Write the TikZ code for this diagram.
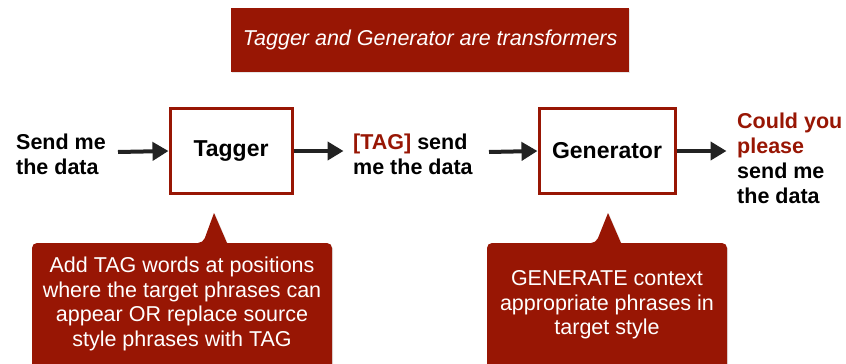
\documentclass[tikz,border=0pt]{standalone}
\usepackage{fontspec}
\setmainfont{Liberation Sans}
\usetikzlibrary{arrows.meta,shadows}
\definecolor{dred}{RGB}{152,22,4}
\definecolor{arr}{RGB}{34,34,34}
\tikzset{
  procbox/.style={draw=dred,line width=3pt,fill=white,minimum width=122pt,minimum height=85pt,inner sep=0pt,
    font=\fontsize{23}{27}\selectfont\bfseries,drop shadow={opacity=0.2,shadow xshift=1pt,shadow yshift=-1pt}},
  sidetext/.style={align=left,inner sep=0pt,font=\fontsize{21.5}{25}\selectfont\bfseries},
  calltext/.style={align=center,inner sep=0pt,text=white,font=\fontsize{21.5}{24.5}\selectfont},
  flow/.style={draw=arr,line width=4pt,arrows={-Triangle[length=16pt,width=18pt]}},
  callout/.style={fill=dred,drop shadow={opacity=0.2,shadow xshift=1pt,shadow yshift=-1pt}}
}
\begin{document}
\begin{tikzpicture}[x=1pt,y=-1pt]
\useasboundingbox (0,0) rectangle (846,364);
\clip (0,0) rectangle (846,364);
% banner
\node[callout,minimum width=398pt,minimum height=64pt,inner sep=0pt,anchor=north west,
  text=white,font=\fontsize{21.5}{25}\selectfont\itshape] (banner) at (231,8) {Tagger and Generator are transformers};
% boxes
\node[procbox] (tagger) at (231,151) {Tagger};
\node[procbox,minimum width=136pt] (gen) at (607,151) {Generator};
% texts
\node[sidetext,anchor=west] (src) at (16,154) {Send me\\the data};
\node[sidetext,anchor=west] (mid) at (353,154) {\textcolor{dred}{[TAG]} send\\me the data};
\node[sidetext,anchor=west] (out) at (737,158) {\textcolor{dred}{Could you}\\\textcolor{dred}{please}\\send me\\the data};
% arrows
\coordinate (a1s) at (118,152);
\coordinate (a3s) at (489,152);
\draw[flow] (a1s) -- (tagger.west);
\draw[flow] (tagger.east) -- ([xshift=50pt]tagger.east);
\draw[flow] (a3s) -- (gen.west);
\draw[flow] (gen.east) -- ([xshift=50pt]gen.east);
% callouts
\path[callout] [rounded corners=5pt] (32,400) -- (32,243) -- (203,243) [sharp corners] -- (214,213) -- (227,243) [rounded corners=5pt] -- (332,243) -- (332,400) -- cycle;
\path[callout] [rounded corners=5pt] (487,400) -- (487,243) -- (596,243) [sharp corners] -- (608,213) -- (621,243) [rounded corners=5pt] -- (727,243) -- (727,400) -- cycle;
\node[calltext] (c1) at (182,304) {Add TAG words at positions\\where the target phrases can\\appear OR replace source\\style phrases with TAG};
\node[calltext] (c2) at (607,305) {GENERATE context\\appropriate phrases in\\target style};
\end{tikzpicture}
\end{document}
